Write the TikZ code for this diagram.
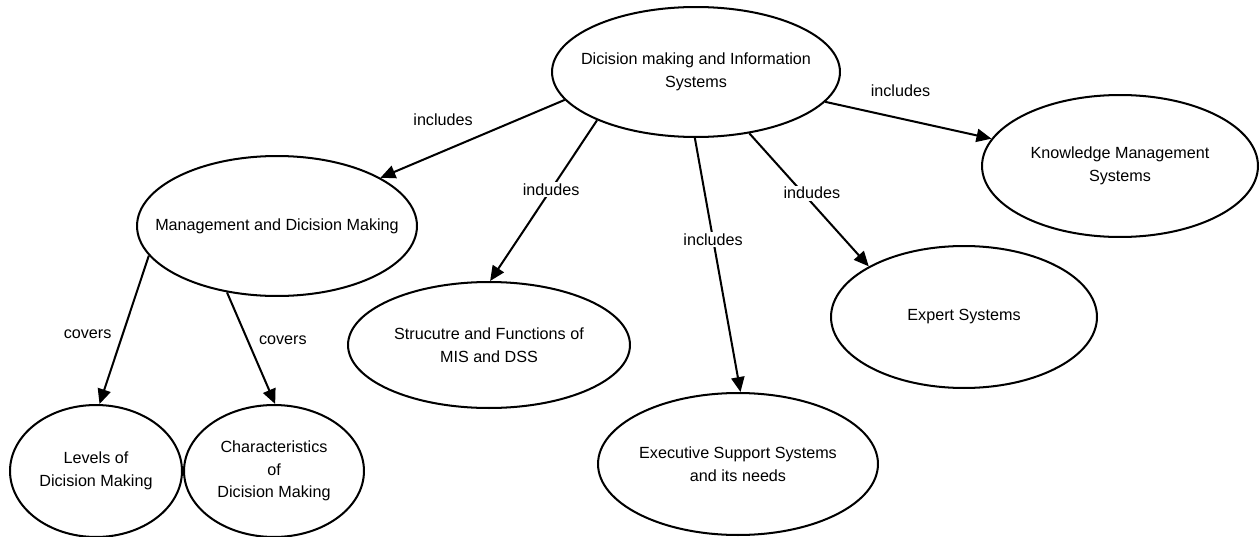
\documentclass[tikz,border=0pt]{standalone}
\usepackage{fontspec}
\setmainfont{Liberation Sans}
\usetikzlibrary{shapes.geometric,arrows.meta}

\begin{document}
\begin{tikzpicture}[x=0.02cm, y=-0.02cm, >={Triangle[length=8.5pt,width=7.5pt]},
        line width=1.15pt,
        topic/.style={ellipse, draw, align=center, inner xsep=-40pt, inner ysep=-20pt, font=\fontsize{9.2}{12.8}\selectfont},
        lbl/.style={font=\fontsize{9.2}{11}\selectfont, inner sep=1pt},
        cut/.style={lbl, fill=white}]
        \useasboundingbox (0,0) rectangle (1260,537);
        \node[topic, minimum width=5.76cm, minimum height=2.6cm] (DIS) at (696,72) {Dicision making and Information\\Systems};
        \node[topic, minimum width=5.6cm, minimum height=2.8cm] (MDM) at (277,226) {Management and Dicision Making};
        \node[topic, minimum width=3.44cm, minimum height=2.64cm] (LDM) at (96,471) {Levels of\\Dicision Making};
        \node[topic, minimum width=3.6cm, minimum height=2.64cm] (CDM) at (274,471) {Characteristics\\of\\Dicision Making};
        \node[topic, minimum width=5.64cm, minimum height=2.52cm] (SFM) at (489,345) {Strucutre and Functions of\\MIS and DSS};
        \node[topic, minimum width=5.6cm, minimum height=2.84cm] (ESS) at (738,464) {Executive Support Systems\\and its needs};
        \node[topic, minimum width=5.32cm, minimum height=2.84cm] (EXS) at (964,317) {Expert Systems};
        \node[topic, minimum width=5.52cm, minimum height=2.84cm] (KMS) at (1120,166) {Knowledge Management\\Systems};

        \draw[->] (DIS.192) -- node[lbl, pos=.66, yshift=18pt]{includes} (MDM.25);
        \draw[->] (DIS.206) -- node[cut, pos=.43]{indudes} (SFM.89);
        \draw[->] (DIS.269) -- node[cut, pos=.40]{includes} (ESS.88);
        \draw[->] (DIS.311) -- node[cut, pos=.45, xshift=5pt]{indudes} (EXS.152);
        \draw[->] (DIS.347) -- node[lbl, pos=.41, yshift=15pt, xshift=4pt]{includes} (KMS.168);
        \draw[->] (MDM.193) -- node[lbl, pos=.53, xshift=-20pt]{covers} (LDM.87);
        \draw[->] (MDM.233) -- node[lbl, pos=.43, xshift=20pt]{covers} (CDM.89);
    \end{tikzpicture}
\end{document}
